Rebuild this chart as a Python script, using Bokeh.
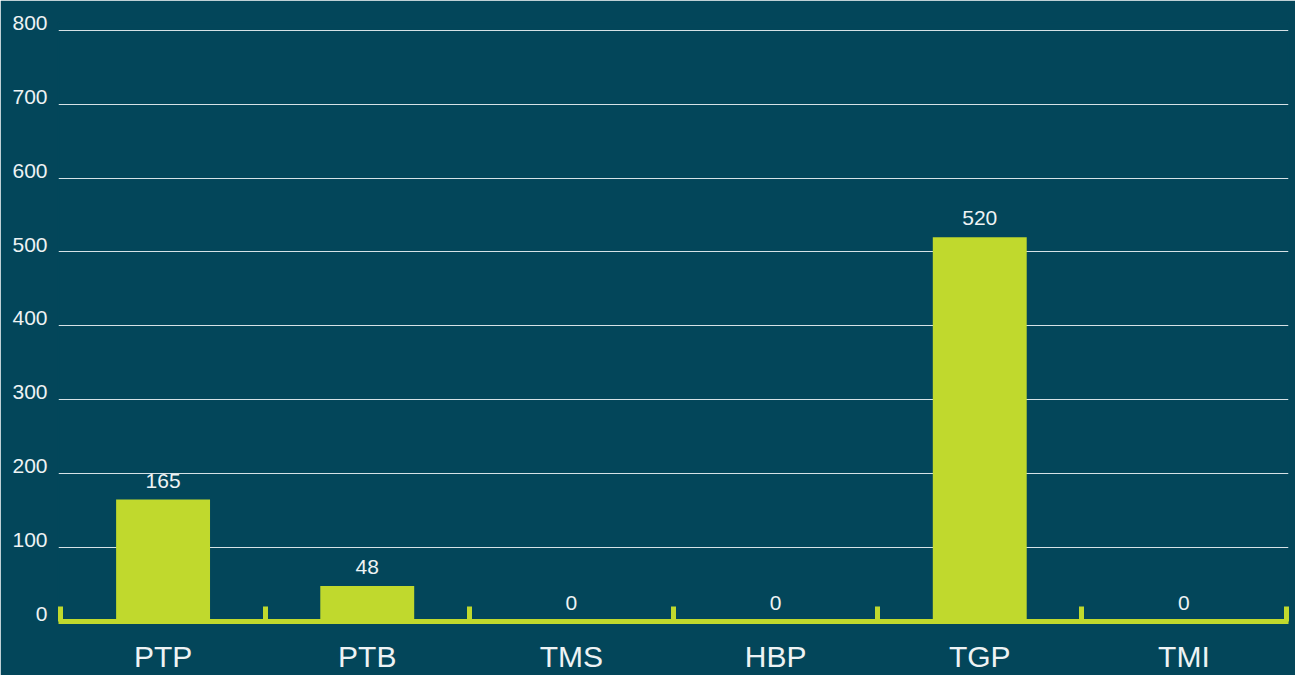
from bokeh.plotting import figure
from bokeh.models import Range1d, FixedTicker, ColumnDataSource, LabelSet, LinearAxis
from bokeh.core.properties import value
from bokeh.embed import file_html
from bokeh.resources import INLINE

categories = ["PTP", "PTB", "TMS", "HBP", "TGP", "TMI"]
values = [165, 48, 0, 0, 520, 0]
y_ticks = [0, 100, 200, 300, 400, 500, 600, 700, 800]

BG = "#03465a"
GREEN = "#c0d92d"
TEXT = "#eef3f4"
GRID = "#d6e2e6"
FONT = "Liberation Sans"

n = len(categories)
centers = [i + 0.5 for i in range(n)]
bounds = list(range(n + 1))

src = ColumnDataSource(dict(
    x=centers,
    top=values,
    lab=[str(v) for v in values],
))

Y_MAX = 800
LABEL_SHIFT = 10   # y tick labels sit just above their grid line
HEAD = 0.5         # headroom so the top label stays inside the label range

p = figure(
    width=1295, height=675,
    x_range=Range1d(-0.0122, n + 0.0122),
    y_range=Range1d(0, Y_MAX + LABEL_SHIFT + HEAD),
    output_backend="svg", toolbar_location=None,
    min_border_left=58, min_border_right=7,
    min_border_top=22, min_border_bottom=53,
)
p.background_fill_color = BG
p.border_fill_color = BG
p.outline_line_color = BG
p.outline_line_width = 2

# grid
p.xgrid.visible = False
p.ygrid.ticker = FixedTicker(ticks=y_ticks)
p.ygrid.grid_line_color = GRID
p.ygrid.grid_line_width = 1

# bars
p.vbar(x="x", top="top", bottom=0, width=0.46, source=src,
       fill_color=GREEN, line_color=None)

# main y axis hidden; labels drawn on a shifted companion axis
p.yaxis.visible = False
p.extra_y_ranges = {"lab": Range1d(-LABEL_SHIFT, Y_MAX + HEAD)}
yax = LinearAxis(y_range_name="lab", ticker=FixedTicker(ticks=y_ticks))
yax.axis_line_color = None
yax.major_tick_line_color = None
yax.minor_tick_line_color = None
yax.major_tick_in = 0
yax.major_tick_out = 0
yax.minor_tick_in = 0
yax.minor_tick_out = 0
yax.major_label_standoff = 11
yax.major_label_text_font = FONT
yax.major_label_text_font_size = "21px"
yax.major_label_text_color = TEXT
p.add_layout(yax, "left")

# x axis: thick green line, ticks at category boundaries, names at centers
p.xaxis.ticker = FixedTicker(ticks=centers, minor_ticks=bounds)
p.xaxis.major_label_overrides = {c: name for c, name in zip(centers, categories)}
p.xaxis.axis_line_color = GREEN
p.xaxis.axis_line_width = 5
p.xaxis.major_tick_line_color = None
p.xaxis.major_tick_in = 0
p.xaxis.major_tick_out = 0
p.xaxis.minor_tick_line_color = GREEN
p.xaxis.minor_tick_line_width = 5
p.xaxis.minor_tick_in = 15
p.xaxis.minor_tick_out = 0
p.xaxis.major_label_standoff = 18
p.xaxis.major_label_text_font = FONT
p.xaxis.major_label_text_font_size = "30px"
p.xaxis.major_label_text_color = TEXT

# value labels above bars
vals = LabelSet(x="x", y="top", text="lab", source=src,
                y_offset=12, text_align="center", text_baseline="alphabetic",
                text_font=value(FONT), text_font_size=value("21px"),
                text_color=TEXT)
p.add_layout(vals)

open("out.html", "w").write(file_html(p, INLINE))
